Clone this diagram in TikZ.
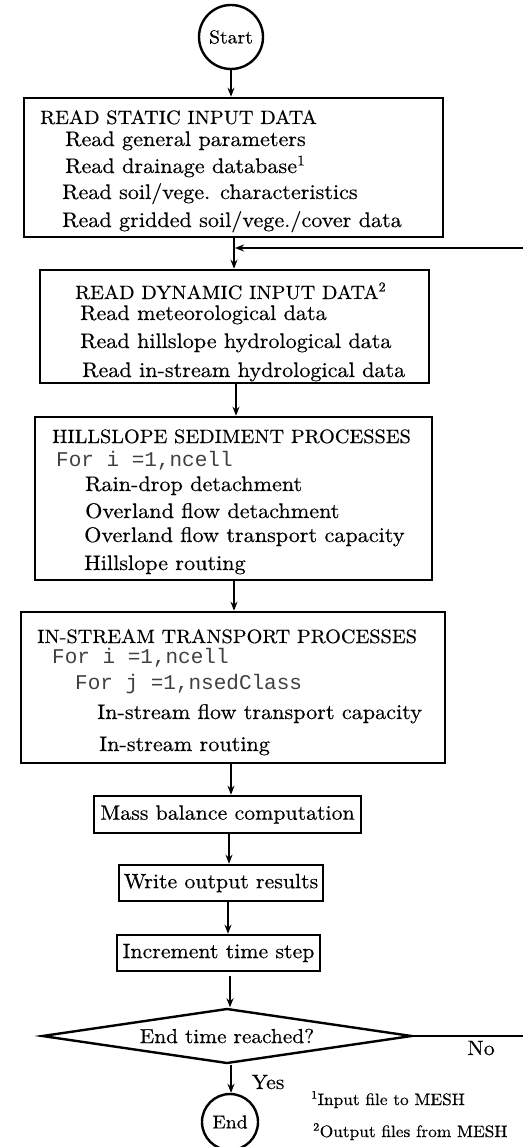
\documentclass[tikz,border=0pt]{standalone}
\usepackage{fontspec}
\setmainfont{lmroman10-regular.otf}[FakeStretch=1.05,FakeBold=0.4]
\newfontfamily\monofont{Liberation Mono}
\usetikzlibrary{arrows.meta,shapes.geometric}
\begin{document}
\begin{tikzpicture}[x=1pt,y=-1pt,
  box/.style={draw,line width=2.6pt,inner sep=0pt},
  rd/.style={draw,circle,line width=2.4pt,inner sep=0pt,font=\fontsize{18.7}{20}\selectfont},
  txt/.style={anchor=base west,inner sep=0pt,font=\fontsize{21.1}{24}\selectfont},
  hd/.style={anchor=base west,inner sep=0pt,font=\fontsize{19.3}{22}\selectfont},
  mono/.style={anchor=base west,inner sep=0pt,font=\monofont\fontsize{21}{24}\selectfont,text=black!75},
  lbl/.style={inner sep=0pt,font=\fontsize{20.8}{24}\selectfont},
  fn/.style={anchor=base west,inner sep=0pt,font=\fontsize{16.5}{18}\selectfont},
  arr/.style={line width=2pt,-{Stealth[length=9pt,width=7pt]}},
  ln/.style={line width=2pt}]
\useasboundingbox (0,0) rectangle (523,1147);

% Start
\node[rd,minimum size=64pt] (start) at (231,37) {Start};

% Box 1
\node[box,minimum width=419pt,minimum height=139pt] (b1) at (233.5,167.5) {};
\node[hd] (t11) at (40,124) {READ STATIC INPUT DATA};
\node[txt] (t12) at (65,146) {Read general parameters};
\node[txt] (t13) at (65,173) {Read drainage database\textsuperscript{1}};
\node[txt] (t14) at (62,199) {Read soil/vege. characteristics};
\node[txt] (t15) at (62,227) {Read gridded soil/vege./cover data};

% Box 2
\node[box,minimum width=389pt,minimum height=113pt] (b2) at (234.5,326.5) {};
\node[hd] (t21) at (75,299) {READ DYNAMIC INPUT DATA\textsuperscript{2}};
\node[txt] (t22) at (80,320) {Read meteorological data};
\node[txt] (t23) at (80,348) {Read hillslope hydrological data};
\node[txt] (t24) at (82,377) {Read in-stream hydrological data};

% Box 3
\node[box,minimum width=397pt,minimum height=163pt] (b3) at (233.5,498.5) {};
\node[hd] (t31) at (52,443) {HILLSLOPE SEDIMENT PROCESSES};
\node[mono] (t32) at (56,466) {For i =1,ncell};
\node[txt] (t33) at (85,491) {Rain-drop detachment};
\node[txt] (t34) at (85,518) {Overland flow detachment};
\node[txt] (t35) at (84,542) {Overland flow transport capacity};
\node[txt] (t36) at (84,570) {Hillslope routing};

% Box 4
\node[box,minimum width=424pt,minimum height=151pt] (b4) at (233,687.5) {};
\node[hd] (t41) at (37,643) {IN-STREAM TRANSPORT PROCESSES};
\node[mono] (t42) at (52,663) {For i =1,ncell};
\node[mono] (t43) at (75,689) {For j =1,nsedClass};
\node[txt] (t44) at (97,719) {In-stream flow transport capacity};
\node[txt] (t45) at (99,751) {In-stream routing};

% Simple boxes
\node[box,lbl,minimum width=267pt,minimum height=37pt] (b5) at (227.5,814.5) {Mass balance computation};
\node[box,lbl,minimum width=204pt,minimum height=36pt] (b6) at (221,883) {Write output results};
\node[box,lbl,minimum width=203pt,minimum height=36pt] (b7) at (218.5,953) {Increment time step};

% Decision
\node[draw,diamond,line width=2.4pt,inner sep=0pt,shape aspect=6.7,
      minimum width=370pt,minimum height=55pt,font=\fontsize{20.3}{22}\selectfont] (dec) at (227,1036) {End time reached?};

% End
\node[rd,minimum size=56pt] (end) at (230,1122) {End};

% Labels
\node[lbl] (no) at (481,1048) {No};
\node[lbl] (yes) at (268,1082) {Yes};
\node[fn] (fn1) at (311,1105) {\textsuperscript{1}Input file to MESH};
\node[fn] (fn2) at (313,1137) {\textsuperscript{2}Output files from MESH};

% Connectors
\draw[arr] (start.south -| 231,0) -- (b1.north -| 231,0);
\draw[arr] (b1.south -| 234,0) -- (b2.north -| 234,0);
\draw[arr] (b2.south -| 236,0) -- (b3.north -| 236,0);
\draw[arr] (b3.south -| 234,0) -- (b4.north -| 234,0);
\draw[arr] (b4.south -| 231,0) -- (b5.north -| 231,0);
\draw[arr] (b5.south -| 229,0) -- (b6.north -| 229,0);
\draw[arr] (b6.south -| 228,0) -- (b7.north -| 228,0);
\draw[arr] (b7.south -| 230,0) ++(0,4) -- (dec.north -| 230,0);
\draw[arr] (dec.south -| 231,0) -- (end.north -| 231,0);

\coordinate (fbR) at (523,248);
\coordinate (fbL) at (235,248);
\draw[arr] (fbR) -- (fbL);
\coordinate (noR) at (523,1036);
\draw[ln] (dec.east) -- (noR);
\end{tikzpicture}
\end{document}
